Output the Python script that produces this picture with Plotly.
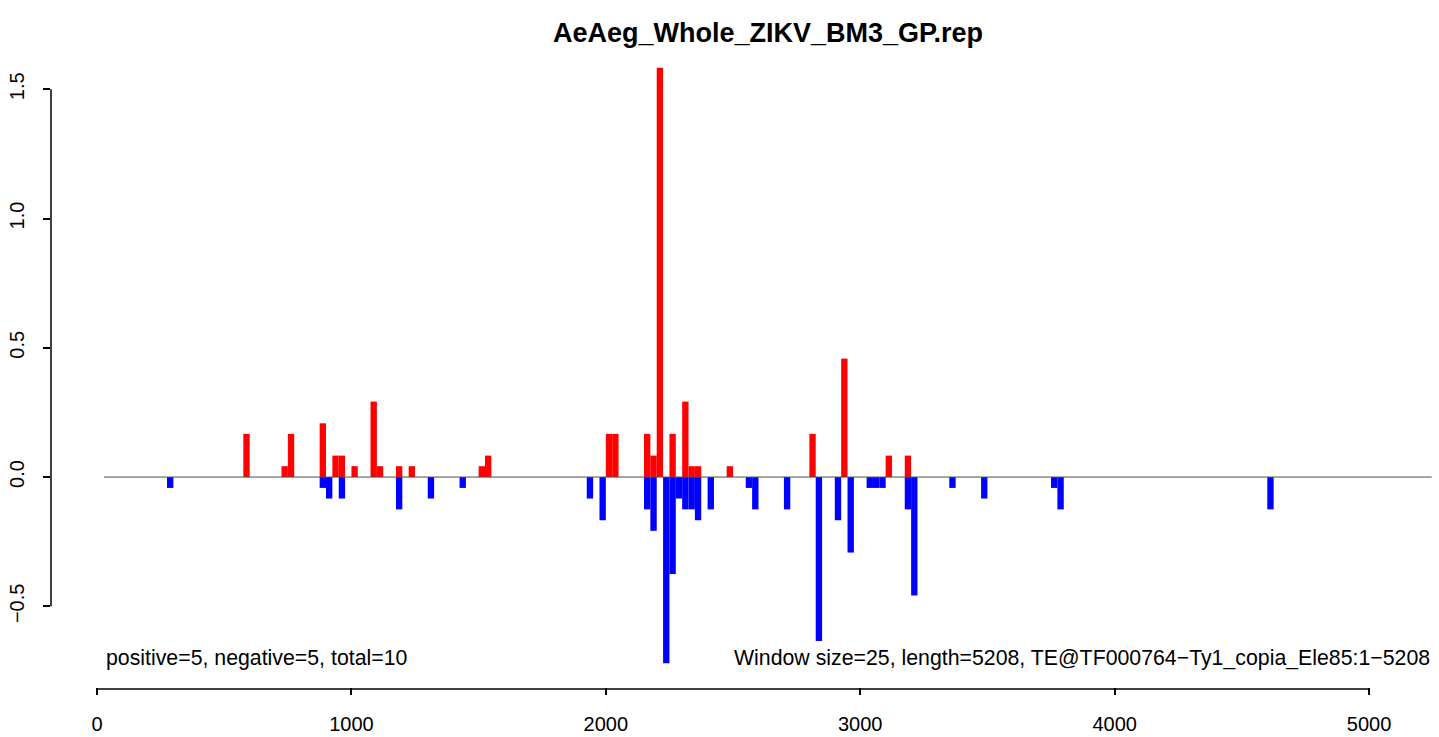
import plotly.graph_objects as go

# ---- data ----
window = 25
pos_start = [575, 725, 750, 875, 925, 950, 1000, 1075, 1100, 1175, 1225, 1500, 1525,
             2000, 2025, 2150, 2175, 2200, 2250, 2300, 2325, 2350, 2475, 2800, 2925,
             3100, 3175]
pos_value = [0.167, 0.042, 0.167, 0.208, 0.083, 0.083, 0.042, 0.292, 0.042, 0.042, 0.042,
             0.042, 0.083, 0.167, 0.167, 0.167, 0.083, 1.583, 0.167, 0.292, 0.042, 0.042,
             0.042, 0.167, 0.458, 0.083, 0.083]
neg_start = [275, 875, 900, 950, 1175, 1300, 1425, 1925, 1975, 2150, 2175, 2225, 2250,
             2275, 2300, 2325, 2350, 2400, 2550, 2575, 2700, 2825, 2900, 2950, 3025,
             3050, 3075, 3175, 3200, 3350, 3475, 3750, 3775, 4600]
neg_value = [-0.042, -0.042, -0.083, -0.083, -0.125, -0.083, -0.042, -0.083, -0.167,
             -0.125, -0.208, -0.72, -0.375, -0.083, -0.125, -0.125, -0.167, -0.125,
             -0.042, -0.125, -0.125, -0.634, -0.167, -0.292, -0.042, -0.042, -0.042,
             -0.125, -0.458, -0.042, -0.083, -0.042, -0.125, -0.125]
x_ticks = [0, 1000, 2000, 3000, 4000, 5000]
y_ticks = [-0.5, 0.0, 0.5, 1.0, 1.5]
y_tick_text = ["\u22120.5", "0.0", "0.5", "1.0", "1.5"]
title_text = "AeAeg_Whole_ZIKV_BM3_GP.rep"
label_left = "positive=5, negative=5, total=10"
label_right = "Window size=25, length=5208, TE@TF000764\u2212Ty1_copia_Ele85:1\u22125208"
seq_start, seq_end = 27, 5246

FONT = "Liberation Sans, Arial, Helvetica, sans-serif"
W, H = 1439, 737

fig = go.Figure()
fig.add_trace(go.Bar(x=[s + window / 2 for s in pos_start], y=pos_value,
                     width=window, marker=dict(color="#FF0000", line=dict(width=0)),
                     hoverinfo="x+y"))
fig.add_trace(go.Bar(x=[s + window / 2 for s in neg_start], y=neg_value,
                     width=window, marker=dict(color="#0000FF", line=dict(width=0)),
                     hoverinfo="x+y"))

# zero baseline
fig.add_shape(type="line", xref="x", yref="y", x0=seq_start, x1=seq_end, y0=0, y1=0,
              line=dict(color="#4d4d4d", width=1))
# axis lines limited to tick range (R style)
fig.add_shape(type="line", xref="x", yref="paper", x0=x_ticks[0], x1=x_ticks[-1],
              y0=-0.003, y1=-0.003, line=dict(color="black", width=1.5))
fig.add_shape(type="line", xref="paper", yref="y", x0=0, x1=0, y0=y_ticks[0],
              y1=y_ticks[-1], line=dict(color="black", width=1.5))

fig.add_annotation(x=seq_start, y=-0.70, xref="x", yref="y", text=label_left,
                   showarrow=False, xanchor="left", yanchor="middle",
                   font=dict(family=FONT, size=21.3, color="black"))
fig.add_annotation(x=seq_end, y=-0.70, xref="x", yref="y", text=label_right,
                   showarrow=False, xanchor="right", yanchor="middle",
                   font=dict(family=FONT, size=21.3, color="black"))

fig.update_layout(
    width=W, height=H,
    margin=dict(l=51, r=0, t=44, b=50, pad=0),
    plot_bgcolor="white", paper_bgcolor="white",
    showlegend=False, barmode="overlay",
    font=dict(family=FONT, color="black", size=20),
    title=dict(text="<b>" + title_text + "</b>", x=768 / W, xref="container",
               xanchor="center", y=1 - 33 / H, yref="container", yanchor="middle",
               font=dict(family=FONT, size=27, color="black")),
    xaxis=dict(range=[-181, 5275], tickvals=x_ticks, ticktext=[str(v) for v in x_ticks],
               ticks="outside", ticklen=7, tickwidth=1.5, tickcolor="black",
               showline=False, showgrid=False, zeroline=False, automargin=False,
               tickfont=dict(family=FONT, size=20, color="black"),
               ticklabelstandoff=12),
    yaxis=dict(range=[-0.812, 1.675], tickvals=y_ticks, ticktext=y_tick_text,
               ticks="outside", ticklen=7, tickwidth=1.5, tickcolor="black",
               showline=False, showgrid=False, zeroline=False, tickangle=-90,
               automargin=False,
               tickfont=dict(family=FONT, size=20, color="black"),
               ticklabelstandoff=11),
)

fig.write_html("out.html",
               config={"displayModeBar": False},
               post_script="document.body.style.margin='0';document.body.style.overflow='hidden';")
